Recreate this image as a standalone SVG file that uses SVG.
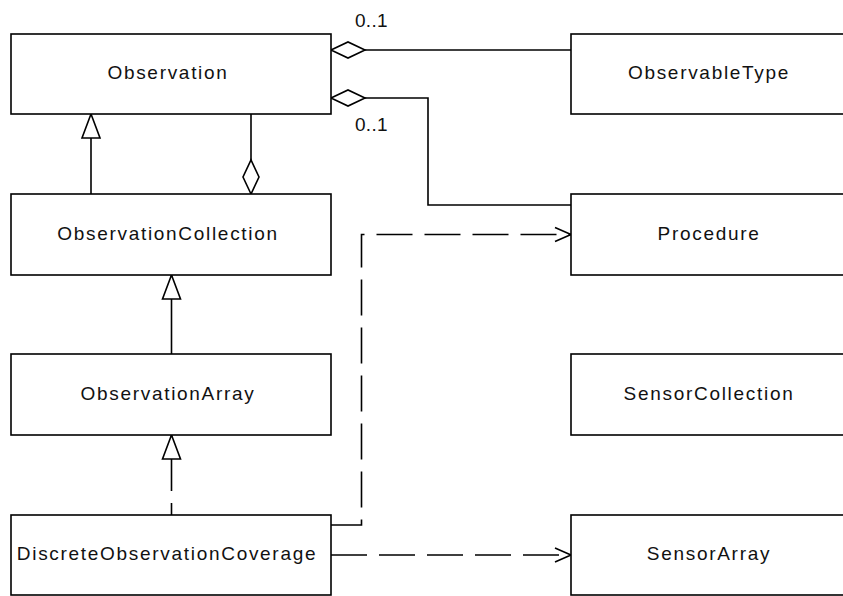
<svg xmlns="http://www.w3.org/2000/svg" width="843" height="596" viewBox="0 0 843 596">
<style>
.box{fill:#fff;stroke:#000;stroke-width:1.6}
.lbl{font-family:"Liberation Sans",Arial,sans-serif;font-size:19px;letter-spacing:1.7px;fill:#111;text-anchor:middle}
.mult{font-family:"Liberation Sans",Arial,sans-serif;font-size:19px;letter-spacing:0.3px;fill:#111}
.ln{fill:none;stroke:#000;stroke-width:1.6}
.dash{stroke-dasharray:36 12}
.mk{fill:#fff;stroke:#000;stroke-width:1.6;stroke-linejoin:miter}
.mko{fill:none;stroke:#000;stroke-width:1.6}
</style>
<defs>
<marker id="tri" markerUnits="userSpaceOnUse" viewBox="-2 -11 28 22" markerWidth="28" markerHeight="22" refX="24" refY="0" orient="auto">
<path class="mk" d="M24,0 L0,-9 L0,9 Z"/>
</marker>
<marker id="dia" markerUnits="userSpaceOnUse" viewBox="-2 -10 38 20" markerWidth="38" markerHeight="20" refX="0" refY="0" orient="auto">
<path class="mk" d="M0,0 L17,-8 L34,0 L17,8 Z"/>
</marker>
<marker id="arr" markerUnits="userSpaceOnUse" viewBox="-18 -9 20 18" markerWidth="20" markerHeight="18" refX="0" refY="0" orient="auto">
<path class="mko" d="M-16,-7 L0,0 L-16,7"/>
</marker>
</defs>
<rect width="843" height="596" fill="#fff"/>
<g id="connectors">
<path class="ln" d="M331,50 H571" marker-start="url(#dia)"/>
<path class="ln" d="M331,98 H428 V205 H571" marker-start="url(#dia)"/>
<path class="ln" d="M91,194 V114" marker-end="url(#tri)"/>
<path class="ln" d="M251,194 V114" marker-start="url(#dia)"/>
<path class="ln" d="M171.5,354 V275" marker-end="url(#tri)"/>
<path class="ln dash" style="stroke-dashoffset:24" d="M171.5,515 V435" marker-end="url(#tri)"/>
<path class="ln dash" d="M331,525 H361.5 V234.5 H571" marker-end="url(#arr)"/>
<path class="ln dash" d="M331,555 H571" marker-end="url(#arr)"/>
</g>
<g id="Observation">
<rect class="box" x="11" y="34" width="320" height="80"/>
<text class="lbl" x="168" y="79">Observation</text>
</g>
<g id="ObservationCollection">
<rect class="box" x="11" y="194" width="320" height="81"/>
<text class="lbl" x="168" y="240">ObservationCollection</text>
</g>
<g id="ObservationArray">
<rect class="box" x="11" y="354" width="320" height="81"/>
<text class="lbl" x="168" y="400">ObservationArray</text>
</g>
<g id="DiscreteObservationCoverage">
<rect class="box" x="11" y="515" width="320" height="80"/>
<text class="lbl" x="167" y="560">DiscreteObservationCoverage</text>
</g>
<g id="ObservableType">
<rect class="box" x="571" y="34" width="300" height="80"/>
<text class="lbl" x="709" y="79">ObservableType</text>
</g>
<g id="Procedure">
<rect class="box" x="571" y="194" width="300" height="81"/>
<text class="lbl" x="709" y="240">Procedure</text>
</g>
<g id="SensorCollection">
<rect class="box" x="571" y="354" width="300" height="81"/>
<text class="lbl" x="709" y="400">SensorCollection</text>
</g>
<g id="SensorArray">
<rect class="box" x="571" y="515" width="300" height="80"/>
<text class="lbl" x="709" y="560">SensorArray</text>
</g>
<g id="multiplicities">
<text class="mult" x="355" y="27">0..1</text>
<text class="mult" x="355" y="131">0..1</text>
</g>
</svg>
